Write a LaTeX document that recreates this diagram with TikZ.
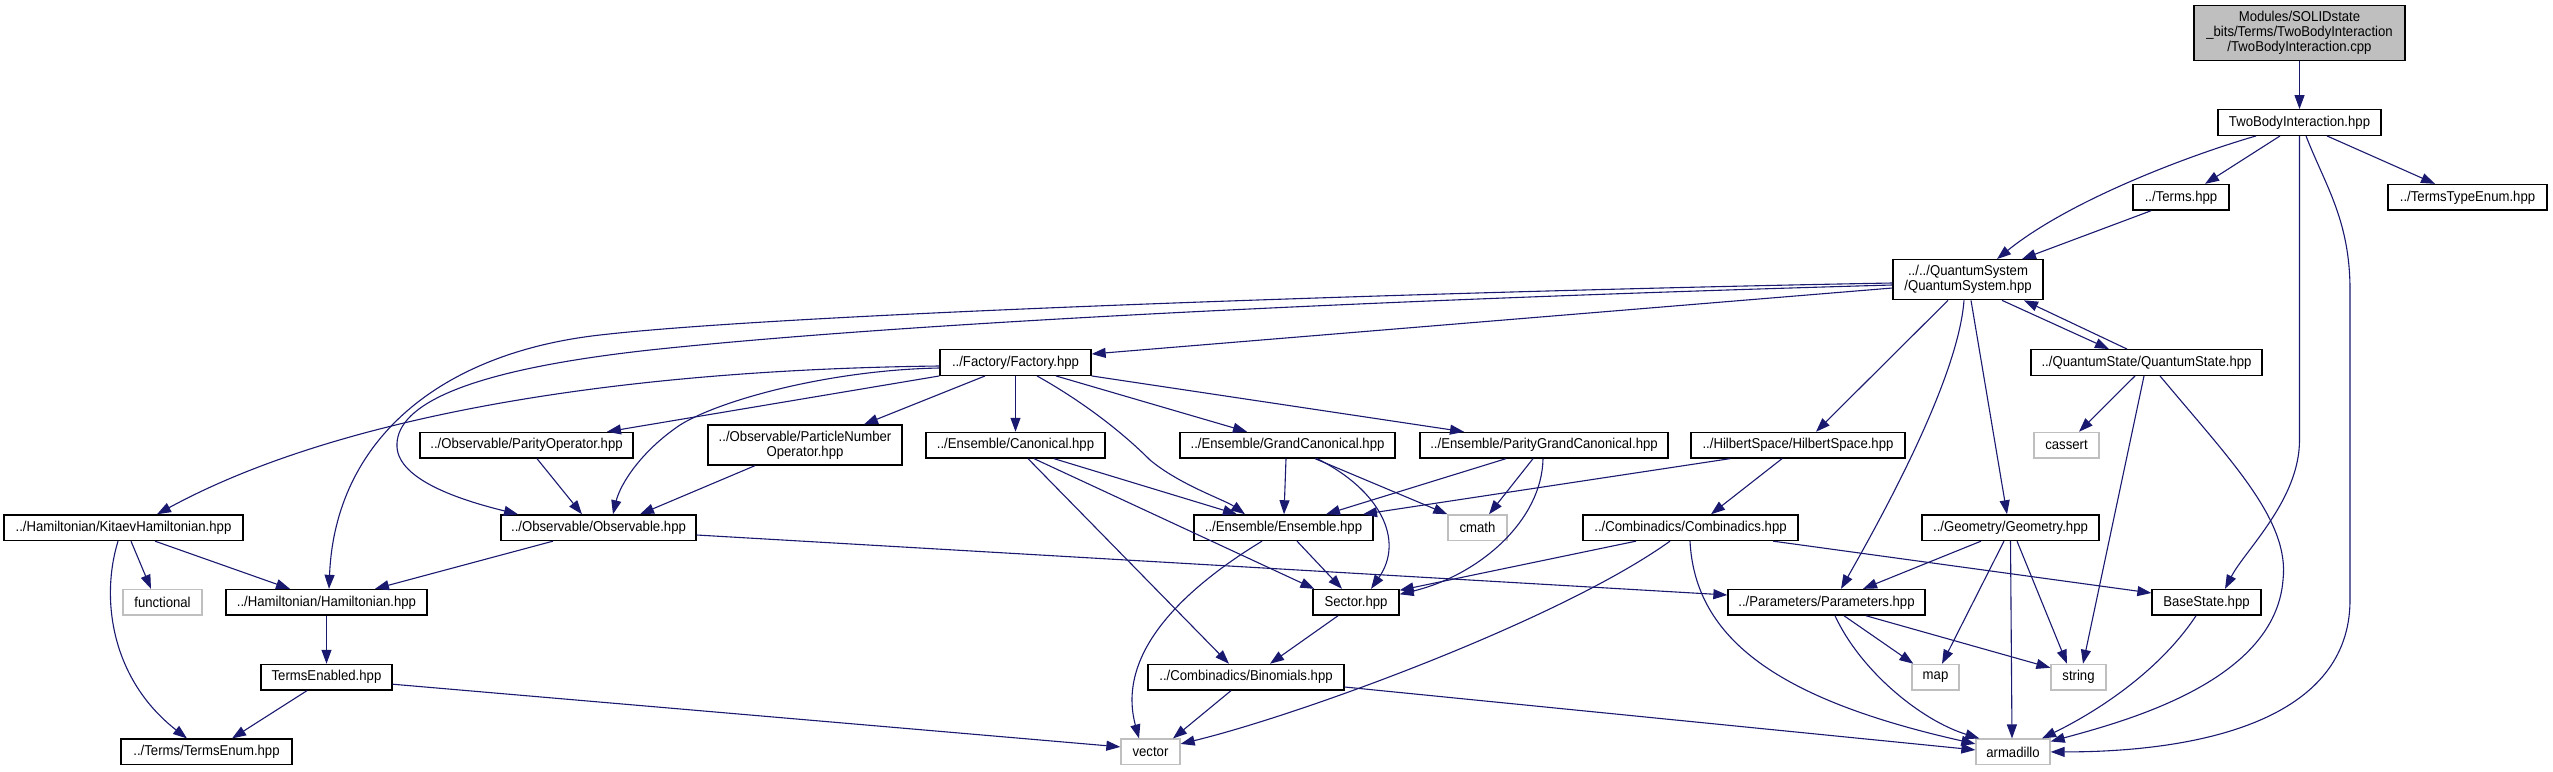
\documentclass[tikz,border=0pt]{standalone}
\usepackage{fontspec}
\setmainfont{Liberation Sans}[FakeStretch=0.92]
\usetikzlibrary{arrows.meta}
\definecolor{edgeblue}{HTML}{191970}
\definecolor{rootgray}{HTML}{BFBFBF}
\definecolor{extgray}{HTML}{BFBFBF}
\tikzset{
  box/.style={draw=black, line width=1.3pt, fill=white, rectangle, inner sep=0pt,
    minimum height=25.6pt, align=center, font=\fontsize{14.3}{15}\selectfont, text=black},
  ext/.style={box, draw=extgray},
  e/.style={draw=edgeblue, line width=1.1pt, -{Triangle[length=14pt,width=10pt]}},
}
\begin{document}
\begin{tikzpicture}[x=1pt,y=-1pt]
\useasboundingbox (0,0) rectangle (2553,771);
% nodes
\node[box,fill=rootgray,minimum width=211pt,minimum height=55pt] (root) at (2299.5,33.2) {Modules/SOLIDstate\\\_bits/Terms/TwoBodyInteraction\\/TwoBodyInteraction.cpp};
\node[box,minimum width=163pt] (twobody) at (2299.5,122.5) {TwoBodyInteraction.hpp};
\node[box,minimum width=96pt] (terms) at (2181,197.3) {../Terms.hpp};
\node[box,minimum width=159pt] (tte) at (2467.5,197.3) {../TermsTypeEnum.hpp};
\node[box,minimum width=150pt,minimum height=40pt] (qs) at (1968,279.7) {../../QuantumSystem\\/QuantumSystem.hpp};
\node[box,minimum width=231pt] (qstate) at (2146.5,362.5) {../QuantumState/QuantumState.hpp};
\node[box,minimum width=151pt] (factory) at (1015.5,362.5) {../Factory/Factory.hpp};
\node[box,minimum width=213pt] (po) at (526.5,445.2) {../Observable/ParityOperator.hpp};
\node[box,minimum width=194pt,minimum height=40pt] (pno) at (805,445) {../Observable/ParticleNumber\\Operator.hpp};
\node[box,minimum width=179pt] (canon) at (1015.5,445.2) {../Ensemble/Canonical.hpp};
\node[box,minimum width=215pt] (gc) at (1287.5,445.2) {../Ensemble/GrandCanonical.hpp};
\node[box,minimum width=248pt] (pgc) at (1544,445.2) {../Ensemble/ParityGrandCanonical.hpp};
\node[box,minimum width=214pt] (hs) at (1798,445.2) {../HilbertSpace/HilbertSpace.hpp};
\node[ext,minimum width=65pt] (cassert) at (2066.5,445.2) {cassert};
\node[box,minimum width=239pt] (kitaev) at (123.5,527.7) {../Hamiltonian/KitaevHamiltonian.hpp};
\node[box,minimum width=195pt] (obs) at (598.5,527.7) {../Observable/Observable.hpp};
\node[box,minimum width=179pt] (ens) at (1283.5,527.7) {../Ensemble/Ensemble.hpp};
\node[ext,minimum width=59pt] (cmath) at (1477.5,527.7) {cmath};
\node[box,minimum width=215pt] (comb) at (1690.5,527.7) {../Combinadics/Combinadics.hpp};
\node[box,minimum width=177pt] (geom) at (2010.5,527.7) {../Geometry/Geometry.hpp};
\node[ext,minimum width=79pt] (functional) at (162.5,602.3) {functional};
\node[box,minimum width=201pt] (ham) at (326.5,602.3) {../Hamiltonian/Hamiltonian.hpp};
\node[box,minimum width=86pt] (sector) at (1356,602.3) {Sector.hpp};
\node[box,minimum width=197pt] (params) at (1826.5,602.3) {../Parameters/Parameters.hpp};
\node[box,minimum width=109pt] (basestate) at (2206.5,602.3) {BaseState.hpp};
\node[box,minimum width=131pt] (tenabled) at (326.5,677.2) {TermsEnabled.hpp};
\node[box,minimum width=196pt] (binom) at (1246,677.2) {../Combinadics/Binomials.hpp};
\node[ext,minimum width=47pt] (map) at (1935.5,677.2) {map};
\node[ext,minimum width=55pt] (string) at (2078.5,677.2) {string};
\node[box,minimum width=171pt] (tenum) at (206.5,751.9) {../Terms/TermsEnum.hpp};
\node[ext,minimum width=59pt] (vector) at (1150.5,751.9) {vector};
\node[ext,minimum width=74pt] (arma) at (2013,751.9) {armadillo};
% edges: top
\draw[e] (root.south) -- (twobody.north);
\draw[e] ([xshift=-19.5pt]twobody.south) -- ([xshift=24pt]terms.north);
\draw[e] ([xshift=27.5pt]twobody.south) -- ([xshift=-32.5pt]tte.north);
\draw[e] ([xshift=-43.5pt]twobody.south) .. controls (2190,155) and (2070,200) .. ([xshift=29pt]qs.north);
\draw[e] (twobody.south) -- (2299.5,440) .. controls (2299.5,500) and (2245,550) .. ([xshift=18.5pt]basestate.north);
\draw[e] ([xshift=6.5pt]twobody.south) .. controls (2325,185) and (2350,220) .. (2350,290) -- (2350,600) .. controls (2350,720) and (2200,752) .. (arma.east);
\draw[e] ([xshift=-30pt]terms.south) -- ([xshift=54pt]qs.north);
\draw[e] ([xshift=34pt]qs.south) -- ([xshift=-37.5pt]qstate.north);
\draw[e] ([xshift=-19.5pt]qstate.north) -- ([xshift=56pt]qs.south);
% QuantumSystem
\draw[e] ([yshift=-8.3pt]qs.west) -- ([yshift=8.5pt]factory.east);
\draw[e] ([yshift=-3.3pt]qs.west) .. controls (1500,290) and (800,312) .. (600,335) .. controls (440,353) and (335,440) .. ([xshift=2.5pt]ham.north);
\draw[e] ([yshift=-5.3pt]qs.west) .. controls (1500,296) and (950,318) .. (650,350) .. controls (450,372) and (395,410) .. (397,447) .. controls (399,480) and (460,500) .. ([xshift=-80.5pt]obs.north);
\draw[e] ([xshift=-20pt]qs.south) -- ([xshift=18pt]hs.north);
\draw[e] ([xshift=-4pt]qs.south) .. controls (1958,380) and (1880,520) .. ([xshift=14.5pt]params.north);
\draw[e] ([xshift=3pt]qs.south) -- ([xshift=-3.5pt]geom.north);
% QuantumState
\draw[e] ([xshift=-11.5pt]qstate.south) -- ([xshift=12.5pt]cassert.north);
\draw[e] ([xshift=-2.5pt]qstate.south) -- ([xshift=4.5pt]string.north);
\draw[e] ([xshift=13.5pt]qstate.south) .. controls (2230,460) and (2290,520) .. (2283,580) .. controls (2275,680) and (2130,720) .. ([yshift=-3pt]arma.north east);
% Factory
\draw[e] ([yshift=-3.5pt]factory.west) .. controls (600,370) and (330,420) .. ([xshift=33.5pt]kitaev.north);
\draw[e] (factory.south west) -- ([xshift=80.5pt]po.north);
\draw[e] ([xshift=-30.5pt]factory.south) -- ([xshift=59pt]pno.north);
\draw[e] ([yshift=-5.5pt]factory.west) .. controls (830,370) and (720,400) .. (680,425) .. controls (640,452) and (620,485) .. ([xshift=14.5pt]obs.north);
\draw[e] (factory.south) -- (canon.north);
\draw[e] ([xshift=21.5pt]factory.south) .. controls (1080,400) and (1120,430) .. (1150,460) .. controls (1180,485) and (1225,500) .. ([xshift=-38.5pt]ens.north);
\draw[e] ([xshift=40.5pt]factory.south) -- ([xshift=-40.5pt]gc.north);
\draw[e] (factory.south east) -- ([xshift=-80pt]pgc.north);
% row 5
\draw[e] ([xshift=10.5pt]po.south) -- ([xshift=-16.5pt]obs.north);
\draw[e] ([xshift=-50pt]pno.south) -- ([xshift=41.5pt]obs.north);
\draw[e] ([xshift=38.5pt]canon.south) -- ([xshift=-46.5pt]ens.north);
\draw[e] ([xshift=18.5pt]canon.south) -- ([xshift=2pt]sector.north west);
\draw[e] ([xshift=12.5pt]canon.south) -- ([xshift=-17pt]binom.north);
\draw[e] ([xshift=-1.5pt]gc.south) -- ([xshift=0.5pt]ens.north);
\draw[e] ([xshift=27.5pt]gc.south) -- (cmath.north west);
\draw[e] ([xshift=29.5pt]gc.south) .. controls (1380,490) and (1405,540) .. ([xshift=15pt]sector.north);
\draw[e] ([xshift=-38pt]pgc.south) -- ([xshift=42.5pt]ens.north);
\draw[e] ([xshift=-11pt]pgc.south) -- ([xshift=11.5pt]cmath.north);
\draw[e] ([xshift=-1pt]pgc.south) .. controls (1542,520) and (1480,575) .. ([yshift=8pt]sector.east);
\draw[e] ([xshift=-68pt]hs.south) -- ([xshift=79.5pt]ens.north);
\draw[e] ([xshift=-16pt]hs.south) -- ([xshift=20.5pt]comb.north);
% row 6
\draw[e] ([xshift=7.5pt]kitaev.south) -- ([xshift=-11.5pt]functional.north);
\draw[e] ([xshift=31.5pt]kitaev.south) -- ([xshift=-36.5pt]ham.north);
\draw[e] ([xshift=-5.5pt]kitaev.south) .. controls (100,600) and (112,680) .. ([xshift=-19.5pt]tenum.north);
\draw[e] ([xshift=-45.5pt]obs.south) -- ([xshift=48.5pt]ham.north);
\draw[e] ([yshift=-7.3pt]obs.east) -- ([yshift=7.3pt]params.west);
\draw[e] ([xshift=13.5pt]ens.south) -- ([xshift=-14pt]sector.north);
\draw[e] ([xshift=-21.5pt]ens.south) .. controls (1190,585) and (1115,650) .. ([xshift=-11.5pt]vector.north);
\draw[e] ([xshift=-54.5pt]comb.south) -- ([yshift=12pt]sector.east);
\draw[e] ([xshift=-20.5pt]comb.south) .. controls (1560,620) and (1300,715) .. ([yshift=8pt]vector.east);
\draw[e] ([xshift=82.5pt]comb.south) -- ([yshift=9.3pt]basestate.west);
\draw[e] ([xshift=-0.5pt]comb.south) .. controls (1695,640) and (1780,700) .. ([yshift=8pt]arma.west);
\draw[e] ([xshift=-29.5pt]geom.south) -- ([xshift=36.5pt]params.north);
\draw[e] ([xshift=-6.5pt]geom.south) -- ([xshift=6.5pt]map.north);
\draw[e] (geom.south) -- ([xshift=-1pt]arma.north);
\draw[e] ([xshift=6.5pt]geom.south) -- ([xshift=-11.5pt]string.north);
% row 7
\draw[e] ([xshift=17.5pt]params.south) -- ([xshift=2pt]map.north west);
\draw[e] ([xshift=39.5pt]params.south) -- ([yshift=-4pt]string.north west);
\draw[e] ([xshift=8.5pt]params.south) .. controls (1860,670) and (1920,720) .. ([xshift=4pt]arma.north west);
\draw[e] ([xshift=-10.5pt]basestate.south) .. controls (2160,670) and (2100,710) .. ([xshift=29pt]arma.north);
\draw[e] (ham.south) -- (tenabled.north);
\draw[e] ([xshift=-18pt]sector.south) -- ([xshift=24pt]binom.north);
% row 8
\draw[e] ([xshift=-19.5pt]tenabled.south) -- ([xshift=25.5pt]tenum.north);
\draw[e] ([yshift=-7pt]tenabled.east) -- ([yshift=5pt]vector.west);
\draw[e] ([xshift=-15pt]binom.south) -- ([xshift=22.5pt]vector.north);
\draw[e] ([yshift=-9.8pt]binom.east) -- ([yshift=2pt]arma.west);
\end{tikzpicture}
\end{document}
